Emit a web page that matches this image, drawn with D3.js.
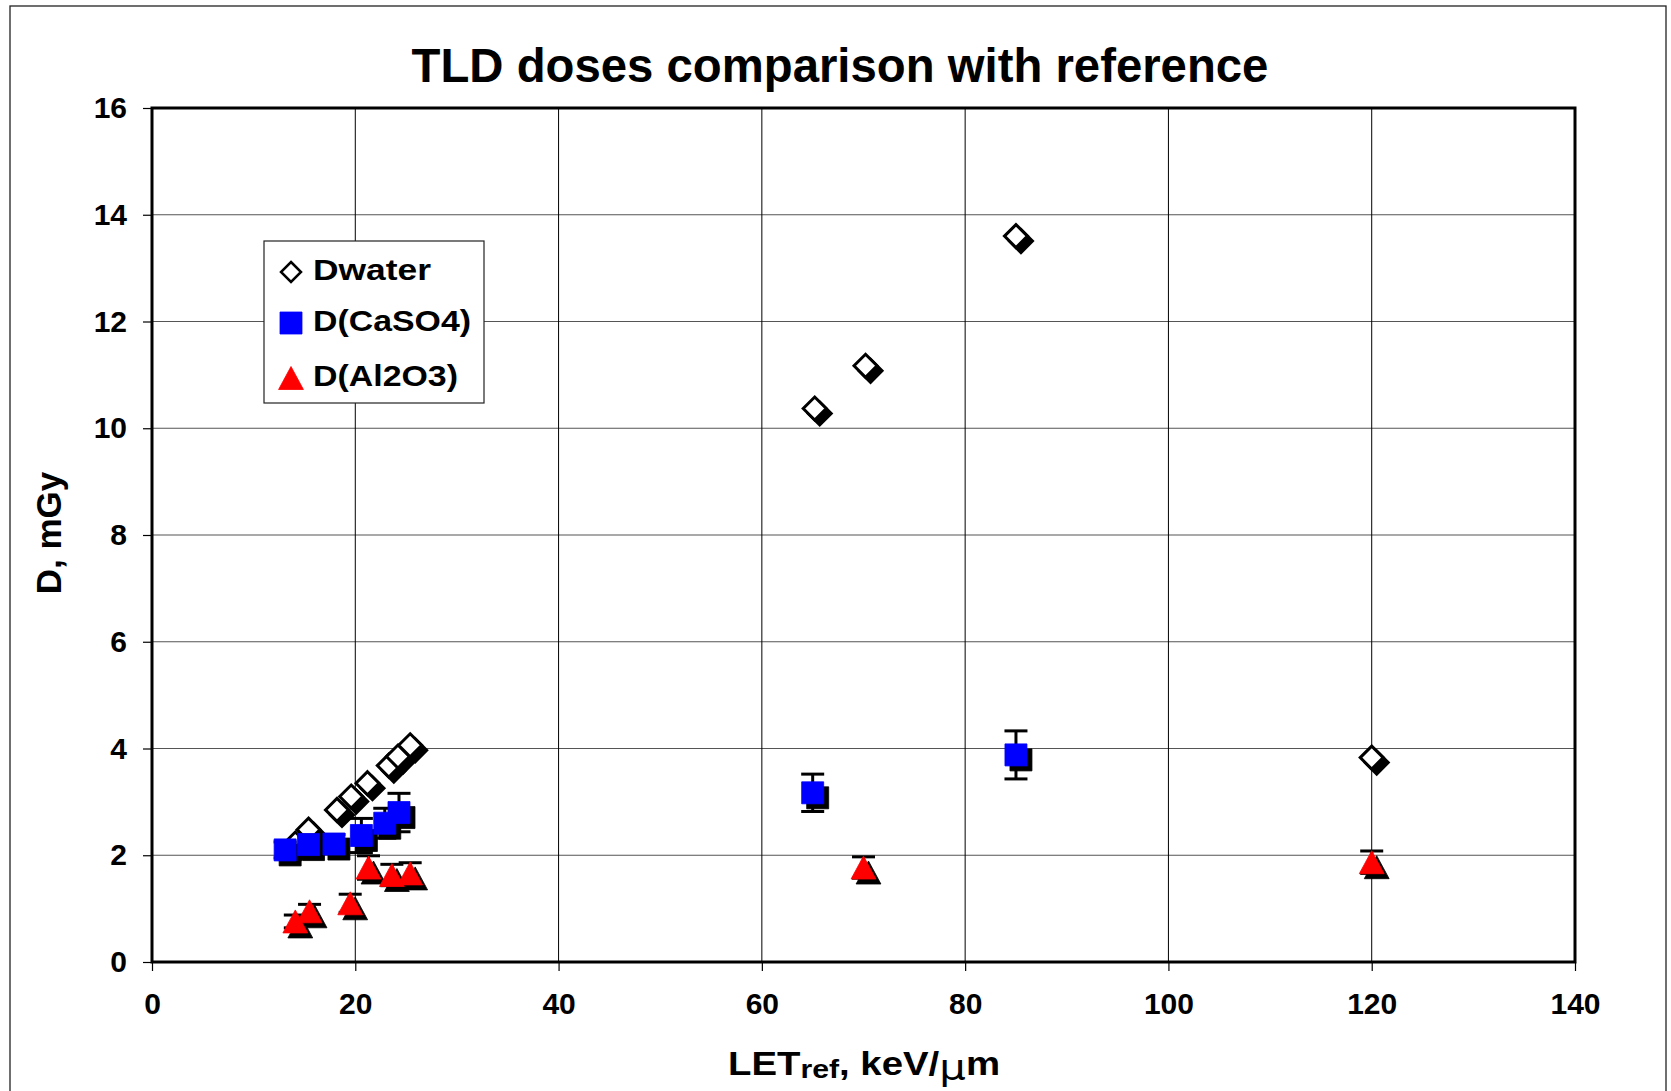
<!DOCTYPE html>
<html><head><meta charset="utf-8">
<script src="https://cdn.jsdelivr.net/npm/d3@7"></script>
<style>
body{margin:0;background:#fff}
svg{display:block}
text{font-family:"Liberation Sans",Arial,sans-serif;font-weight:bold;fill:#000}
</style>
</head><body>
<svg id="c" width="1671" height="1091"></svg>
<script>
// ---------- data ----------
const chartTitle = "TLD doses comparison with reference";
const xTicks = [0, 20, 40, 60, 80, 100, 120, 140];
const yTicks = [0, 2, 4, 6, 8, 10, 12, 14, 16];
const seriesNames = ["Dwater", "D(CaSO4)", "D(Al2O3)"];

const waterLET  = [14.1, 15.4, 18.2, 19.6, 21.2, 23.3, 24.2, 25.4, 65.2, 70.2, 85.0, 120.0];
const waterDose = [2.22, 2.48, 2.85, 3.10, 3.35, 3.68, 3.85, 4.06, 10.37, 11.17, 13.6, 3.83];

const caso4LET  = [13.1, 15.4, 17.9, 20.6, 22.9, 24.3, 65.0, 85.0];
const caso4Dose = [2.10, 2.20, 2.21, 2.37, 2.60, 2.80, 3.17, 3.88];
const caso4Err  = [0.15, 0.18, 0.18, 0.32, 0.28, 0.36, 0.35, 0.45];

const al2o3LET  = [14.1, 15.5, 19.5, 21.3, 23.6, 25.4, 70.0, 120.0];
const al2o3Dose = [0.76, 0.95, 1.10, 1.77, 1.63, 1.66, 1.77, 1.87];
const al2o3Err  = [0.12, 0.13, 0.17, 0.22, 0.20, 0.20, 0.20, 0.21];

// ---------- layout ----------
const svg = d3.select("#c");
const L = 152, R = 1575, T = 108, B = 962;
const x = d3.scaleLinear().domain([0, 140]).range([L, R]);
const y = d3.scaleLinear().domain([0, 16]).range([B, T]);

// outer chart border
svg.append("rect").attr("x", 10).attr("y", 6).attr("width", 1656).attr("height", 1100)
  .attr("fill", "#fff").attr("stroke", "#222").attr("stroke-width", 1.3);

// gridlines
svg.append("g").selectAll("line").data(yTicks).join("line")
  .attr("x1", L).attr("x2", R).attr("y1", d => y(d)).attr("y2", d => y(d))
  .attr("stroke", "#555").attr("stroke-width", 1.2);
svg.append("g").selectAll("line").data(xTicks).join("line")
  .attr("x1", d => x(d)).attr("x2", d => x(d)).attr("y1", T).attr("y2", B)
  .attr("stroke", "#000").attr("stroke-width", 1);

// axes
const yAxis = svg.append("g").attr("transform", `translate(${L},0)`)
  .call(d3.axisLeft(y).tickValues(yTicks).tickSize(9).tickPadding(16).tickFormat(d3.format("d")));
const xAxis = svg.append("g").attr("transform", `translate(0,${B})`)
  .call(d3.axisBottom(x).tickValues(xTicks).tickSize(9).tickPadding(22).tickFormat(d3.format("d")));
[yAxis, xAxis].forEach(g => {
  g.select(".domain").remove();
  g.selectAll(".tick line").attr("stroke", "#000").attr("stroke-width", 1.2);
  g.selectAll(".tick text").attr("font-size", 30).attr("font-family", "Liberation Sans, Arial, sans-serif")
    .attr("font-weight", "bold").attr("fill", "#000");
});

// plot frame
svg.append("rect").attr("x", L).attr("y", T).attr("width", R - L).attr("height", B - T)
  .attr("fill", "none").attr("stroke", "#000").attr("stroke-width", 3);

// symbols
const diamondSym = { draw(ctx, s) { const h = s / 2; ctx.moveTo(0, -h); ctx.lineTo(h, 0); ctx.lineTo(0, h); ctx.lineTo(-h, 0); ctx.closePath(); } };
const squareSym  = { draw(ctx, s) { const h = s / 2; ctx.rect(-h, -h, s, s); } };
const triSym     = { draw(ctx, s) { const h = s / 2; ctx.moveTo(0, -h); ctx.lineTo(h * 1.08, h); ctx.lineTo(-h * 1.08, h); ctx.closePath(); } };

const SH = 5; // shadow offset

function drawSeries(xs, ys, errs, sym, size, fill, stroke, sw) {
  const data = xs.map((v, i) => ({ x: v, y: ys[i], e: errs ? errs[i] : 0 }));
  const g = svg.append("g");
  if (errs) {
    const eb = g.append("g").attr("stroke", "#000").attr("stroke-width", 3);
    eb.selectAll("line.v").data(data).join("line").attr("class", "v")
      .attr("x1", d => x(d.x)).attr("x2", d => x(d.x)).attr("y1", d => y(d.y + d.e)).attr("y2", d => y(d.y - d.e));
    eb.selectAll("line.t").data(data).join("line").attr("class", "t")
      .attr("x1", d => x(d.x) - 11.5).attr("x2", d => x(d.x) + 11.5).attr("y1", d => y(d.y + d.e)).attr("y2", d => y(d.y + d.e));
    eb.selectAll("line.b").data(data).join("line").attr("class", "b")
      .attr("x1", d => x(d.x) - 11.5).attr("x2", d => x(d.x) + 11.5).attr("y1", d => y(d.y - d.e)).attr("y2", d => y(d.y - d.e));
  }
  const path = d3.symbol(sym, size)();
  g.selectAll("path.sh").data(data).join("path").attr("class", "sh")
    .attr("d", path).attr("transform", d => `translate(${x(d.x) + SH},${y(d.y) + SH})`)
    .attr("fill", "#000").attr("stroke", "#000").attr("stroke-width", sw);
  g.selectAll("path.mk").data(data).join("path").attr("class", "mk")
    .attr("d", path).attr("transform", d => `translate(${x(d.x)},${y(d.y)})`)
    .attr("fill", fill).attr("stroke", stroke).attr("stroke-width", sw).attr("stroke-linejoin", "miter");
}

drawSeries(waterLET, waterDose, null, diamondSym, 23, "#fff", "#000", 3);
drawSeries(caso4LET, caso4Dose, caso4Err, squareSym, 22, "#0000ff", "#0000ff", 0.8);
drawSeries(al2o3LET, al2o3Dose, al2o3Err, triSym, 23, "#ff0000", "#ff0000", 0.8);

// legend
const lg = svg.append("g");
lg.append("rect").attr("x", 264).attr("y", 241).attr("width", 220).attr("height", 162)
  .attr("fill", "#fff").attr("stroke", "#222").attr("stroke-width", 1.2);
const legItems = [
  { name: seriesNames[0], sym: diamondSym, size: 20, fill: "#fff", stroke: "#000", sw: 2.5, cy: 272, w: 118 },
  { name: seriesNames[1], sym: squareSym, size: 22, fill: "#0000ff", stroke: "#0000ff", sw: 0.8, cy: 323, w: 158 },
  { name: seriesNames[2], sym: triSym, size: 23, fill: "#ff0000", stroke: "#ff0000", sw: 0.8, cy: 378, w: 145 }
];
legItems.forEach(it => {
  lg.append("path").attr("d", d3.symbol(it.sym, it.size)()).attr("transform", `translate(291,${it.cy})`)
    .attr("fill", it.fill).attr("stroke", it.stroke).attr("stroke-width", it.sw);
  lg.append("text").attr("x", 313).attr("y", it.cy + 8).attr("font-size", 30)
    .attr("textLength", it.w).attr("lengthAdjust", "spacingAndGlyphs").text(it.name);
});

// titles
svg.append("text").attr("x", 840).attr("y", 82).attr("text-anchor", "middle").attr("font-size", 47.3).text(chartTitle);

svg.append("text").attr("transform", "translate(61,533) rotate(-90)").attr("text-anchor", "middle")
  .attr("font-size", 35).text("D, mGy");

const xt = svg.append("text").attr("x", 864).attr("y", 1075).attr("text-anchor", "middle").attr("font-size", 33)
  .attr("textLength", 272).attr("lengthAdjust", "spacingAndGlyphs");
xt.append("tspan").text("LET");
xt.append("tspan").attr("font-size", 26).attr("dy", 3).text("ref");
xt.append("tspan").attr("dy", -3).text(", keV/");
xt.append("tspan").attr("dy", 5).attr("font-family", "DejaVu Sans, sans-serif").attr("font-weight", "normal").attr("font-size", 36).text("μ");
xt.append("tspan").attr("dy", -5).text("m");
</script>
</body></html>
